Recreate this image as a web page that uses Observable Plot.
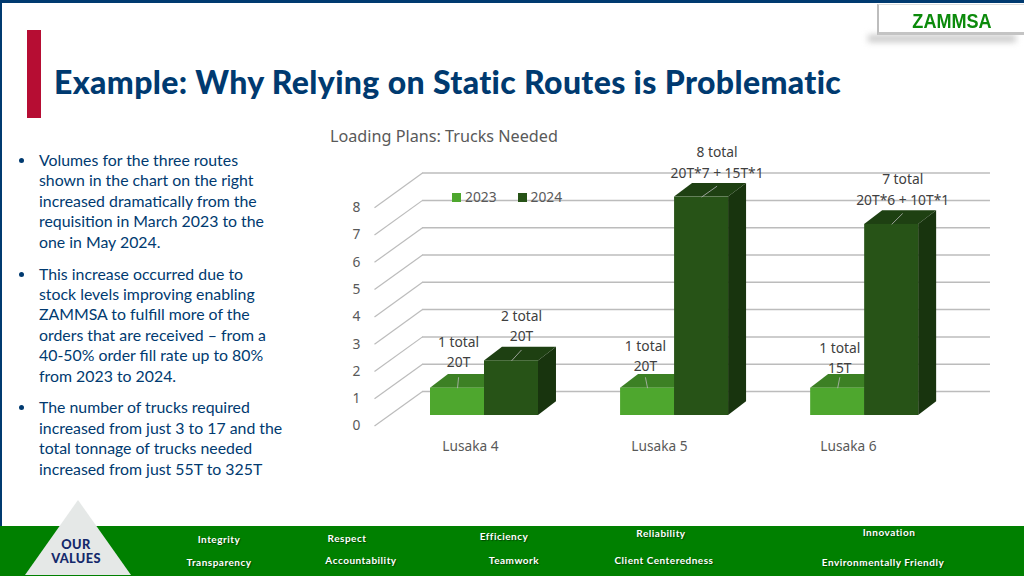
<!DOCTYPE html>
<html><head><meta charset="utf-8">
<script src="https://cdn.jsdelivr.net/npm/d3@7"></script>
<script src="https://cdn.jsdelivr.net/npm/@observablehq/plot@0.6"></script>
<style>
html,body{margin:0;padding:0;background:#fff}
#slide{position:relative;width:1024px;height:576px;overflow:hidden;background:#fff;font-family:Lato,sans-serif}
#slide>*{position:absolute}
.line{white-space:nowrap}
#body{left:39px;top:150px;color:#003a70;font-size:15.85px;line-height:20.4px}
#body ul{list-style:none;margin:0;padding:0}
#body li{position:relative;margin-bottom:11.5px}
#body li::before{content:"";position:absolute;left:-20px;top:8px;width:5px;height:5px;border-radius:50%;background:#003a70}
.val{color:#fff;font:700 10px Lato,sans-serif;letter-spacing:.5px;transform:translate(-50%,-58%);white-space:nowrap;text-shadow:1px 1px 1px rgba(0,0,0,.45)}
#chart{left:320px;top:120px}
#chart svg{overflow:visible;display:block}
</style></head><body>
<div id="slide">
  <div style="left:0;top:0;width:1024px;height:3px;background:#003a70"></div>
  <div style="left:0;top:0;width:2px;height:527px;background:#003a70"></div>
  <div style="left:27px;top:30px;width:14px;height:88px;background:#b60d33"></div>
  <div style="left:868px;top:35px;width:148px;height:7px;background:#c8c8c8;filter:blur(3px)"></div>
  <div style="left:877px;top:4px;width:147px;height:31px;box-sizing:border-box;background:#fff;border-left:2px solid #bdbdbd;border-top:1px solid #ddd;border-bottom:3px solid #c4c4c4"></div>
  <div style="left:877px;top:3px;width:150px;text-align:center;color:#0b8a0b;font:700 21px/35px 'Liberation Sans';transform:scaleX(.86)">ZAMMSA</div>
  <div id="title" class="line" style="left:54px;top:63px;color:#003a70;font:900 32px/38px Lato,sans-serif;letter-spacing:.35px">Example: Why Relying on Static Routes is Problematic</div>
  <div id="body"><ul id="bullets"></ul></div>
  <div id="chartTitle" class="line" style="left:330px;top:125px;color:#595959;font:400 16.2px/22px 'Noto Sans',sans-serif">Loading Plans: Trucks Needed</div>
  <div id="chart"></div>
  <div id="legend" class="line" style="left:452px;top:188px;color:#595959;font:400 13.8px/18px 'Noto Sans',sans-serif"></div>
  <div style="left:0;top:526px;width:1024px;height:50px;background:#008000"></div>
  <svg style="left:0;top:490px" width="160" height="86"><polygon points="78,10 131,85 25,85" fill="#e5e8e7"/></svg>
  <div style="left:26px;top:537px;width:100px;text-align:center;color:#14296b;font:900 12.8px/14px Lato,sans-serif;letter-spacing:.35px">OUR<br>VALUES</div>
</div>
<script>
// ---- slide text ----
const bulletLines = [
  ["Volumes for the three routes","shown in the chart on the right","increased dramatically from the","requisition in March 2023 to the","one in May 2024."],
  ["This increase occurred due to","stock levels improving enabling","ZAMMSA to fulfill more of the","orders that are received – from a","40-50% order fill rate up to 80%","from 2023 to 2024."],
  ["The number of trucks required","increased from just 3 to 17 and the","total tonnage of trucks needed","increased from just 55T to 325T"]
];
const valueNames = ["Integrity","Transparency","Respect","Accountability","Efficiency","Teamwork","Reliability","Client Centeredness","Innovation","Environmentally Friendly"];
const valueLeft  = [219,219,347,361,504,514,661,664,889,883];
const valueTop   = [540,563,539,561,537,561,534,561,533,563];

// ---- chart data ----
const routes = ["Lusaka 4","Lusaka 5","Lusaka 6"];
const years = ["2023","2024"];
const trucks2023 = [1,1,1];
const trucks2024 = [2,8,7];
const labels2023 = ["1 total\n20T","1 total\n20T","1 total\n15T"];
const labels2024 = ["2 total\n20T","8 total\n20T*7 + 15T*1","7 total\n20T*6 + 10T*1"];
const yTicks = [0,1,2,3,4,5,6,7,8];
const colors2023 = {front:"#4ea72e",top:"#3c8024",side:"#2f661c"};
const colors2024 = {front:"#275317",top:"#1e4012",side:"#18340e"};

// ---- layout of the oblique 3-D projection, in scale units ----
const routeStep = 3.52;          // bars between route groups
const depthX = 0.333, depthY = 0.5;   // one bar depth
const floorFrontX = -1.037, floorFrontY = -0.388;
const wallX1 = -0.148, wallX2 = 10.37, wallY = 0.88;
const routeLabelX = 0.74, routeLabelStep = 3.5, routeLabelY = -1.135;
const shift2023 = [0.02,-0.04,0.04], shift2024 = [0.185,0.287,0.204];
const lift2023 = [2.38,2.23,2.17], lift2024 = [3.33,9.32,8.33];

const bars = (values, labels, offset, shift, lift) => values.map((v,i)=>({
  route: routes[i], v, label: labels[i],
  x1: i*routeStep + offset, x2: i*routeStep + offset + 1,
  labelX: i*routeStep + offset + 0.5 + shift[i], labelY: lift[i]
}));
const b2023 = bars(trucks2023, labels2023, 0, shift2023, lift2023);
const b2024 = bars(trucks2024, labels2024, 1, shift2024, lift2024);

const topFace = b => [
  {b:b.route,xa:b.x1,ya:b.v,xb:b.x1+depthX,yb:b.v+depthY},
  {b:b.route,xa:b.x2,ya:b.v,xb:b.x2+depthX,yb:b.v+depthY}];
const sideFace = b => [
  {b:b.route,xa:b.x2,ya:0,xb:b.x2+depthX,yb:depthY},
  {b:b.route,xa:b.x2,ya:b.v,xb:b.x2+depthX,yb:b.v+depthY}];
const faceOpts = fill => ({x1:"xa",y1:"ya",x2:"xb",y2:"yb",z:"b",fill,curve:"linear"});
const barMarks = (rows,c) => [
  Plot.area(rows.flatMap(topFace), faceOpts(c.top)),
  Plot.area(rows.flatMap(sideFace), faceOpts(c.side)),
  Plot.rect(rows,{x1:"x1",x2:"x2",y1:0,y2:"v",fill:c.front})
];
const leaderMark = rows => Plot.link(rows,{
  x1:"labelX", y1:d=>d.v+depthY*0.8,
  x2:d=>d.x1+0.5, y2:"v",
  stroke:"#b9b9b9", strokeWidth:0.8
});

const chart = Plot.plot({
  width:680, height:350,
  marginLeft:44, marginTop:0, marginRight:0, marginBottom:0,
  x:{type:"linear",domain:[0,1],range:[110,164],axis:null},
  y:{type:"linear",domain:[0,8],range:[295,76.6],axis:null},
  style:{background:"transparent",fontFamily:"'Noto Sans',sans-serif",overflow:"visible"},
  marks:[
    Plot.ruleY(yTicks,{y:d=>d+wallY,x1:wallX1,x2:wallX2,stroke:"#bcbcbc",strokeWidth:1.5}),
    Plot.link(yTicks,{x1:floorFrontX,y1:d=>d+floorFrontY,x2:wallX1,y2:d=>d+wallY,stroke:"#bcbcbc",strokeWidth:1.2}),
    Plot.axisY(yTicks,{anchor:"left",tickSize:0,tickPadding:4,dy:10.5,label:null,fontSize:13.8,color:"#595959"}),
    ...barMarks(b2023,colors2023),
    ...barMarks(b2024,colors2024),
    leaderMark(b2023), leaderMark(b2024),
    Plot.text([...b2023,...b2024],{x:"labelX",y:"labelY",text:"label",fontSize:13.8,lineHeight:1.46,fill:"#404040"}),
    Plot.text(routes,{x:(d,i)=>routeLabelX+i*routeLabelStep,y:routeLabelY,text:d=>d,fontSize:13.7,fill:"#595959"})
  ]
});
document.getElementById("chart").append(chart);

// ---- slide furniture from the lists above ----
const ul = document.getElementById("bullets");
bulletLines.forEach(ls=>{
  const li=document.createElement("li");
  ls.forEach(t=>{const d=document.createElement("div");d.className="line";d.textContent=t;li.append(d);});
  ul.append(li);
});
const slide=document.getElementById("slide");
valueNames.forEach((t,i)=>{
  const d=document.createElement("div");d.className="val";d.textContent=t;
  d.style.left=valueLeft[i]+"px";d.style.top=valueTop[i]+"px";slide.append(d);
});
const legend=document.getElementById("legend");
legend.innerHTML=years.map((y,i)=>`<span style="display:inline-block;width:9px;height:9px;background:${[colors2023,colors2024][i].front};margin:0 4px 0 ${i?21:0}px"></span>${y}`).join("");
</script>
</body></html>
